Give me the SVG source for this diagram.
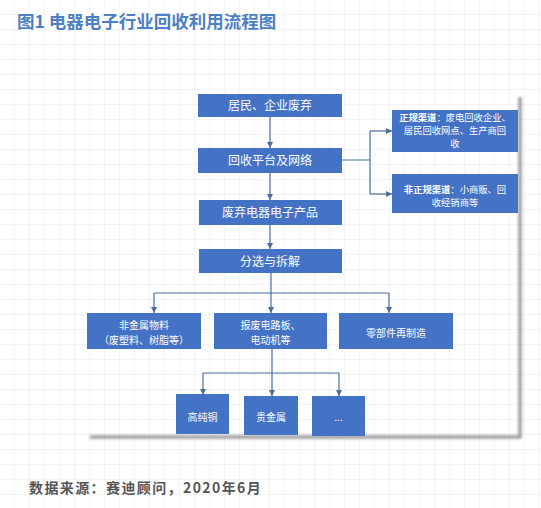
<svg xmlns="http://www.w3.org/2000/svg" width="541" height="508" viewBox="0 0 541 508">
<defs>
<pattern id="grid" width="15" height="15" patternUnits="userSpaceOnUse">
<path d="M15 0V15M0 15H15" fill="none" stroke="#e9e9ee" stroke-width="1"/>
</pattern>
<filter id="blur" x="-10%" y="-10%" width="120%" height="120%"><feGaussianBlur stdDeviation="1.6"/></filter>
<marker id="arr" viewBox="0 0 6 6" refX="6" refY="3" markerWidth="6" markerHeight="6" markerUnits="userSpaceOnUse" orient="auto">
<path d="M0 0L6 3L0 6Z" fill="#4a6e9c"/>
</marker>
<style>
.box{fill:#4472c4}
.t{font-family:"Noto Sans CJK SC","Noto Sans",sans-serif;fill:#fff;text-anchor:middle}
.b{font-size:12px}
.s{font-size:10px}
.r{font-size:9.3px}
.ln{fill:none;stroke:#4a6e9c;stroke-width:1.2}
</style>
</defs>
<rect width="541" height="508" fill="#fff"/>
<rect width="541" height="508" fill="url(#grid)"/>
<g id="card-shadow">
<path d="M90 437H520V97" fill="none" stroke="#8a8a8a" stroke-width="3" filter="url(#blur)"/>
</g>
<text x="17" y="28" font-family="Noto Sans CJK SC,sans-serif" font-size="17.5" font-weight="bold" fill="#4d7fc4">图1 电器电子行业回收利用流程图</text>
<g id="connectors">
<path class="ln" d="M270 117V148" marker-end="url(#arr)"/>
<path class="ln" d="M270 173V200" marker-end="url(#arr)"/>
<path class="ln" d="M270 225V249" marker-end="url(#arr)"/>
<path class="ln" d="M342 160H370M370 131V194"/>
<path class="ln" d="M370 131H392" marker-end="url(#arr)"/>
<path class="ln" d="M370 194H392" marker-end="url(#arr)"/>
<path class="ln" d="M271 273V293M154 293H389"/>
<path class="ln" d="M154 293V313" marker-end="url(#arr)"/>
<path class="ln" d="M271 293V313" marker-end="url(#arr)"/>
<path class="ln" d="M389 293V313" marker-end="url(#arr)"/>
<path class="ln" d="M272 349V373M203 373H339"/>
<path class="ln" d="M203 373V395" marker-end="url(#arr)"/>
<path class="ln" d="M272 373V396" marker-end="url(#arr)"/>
<path class="ln" d="M339 373V396" marker-end="url(#arr)"/>
</g>
<g id="n1"><rect class="box" x="198" y="94" width="144" height="23"/><text class="t b" x="270" y="110">居民、企业废弃</text></g>
<g id="n2"><rect class="box" x="198" y="148" width="144" height="25"/><text class="t b" x="270" y="165">回收平台及网络</text></g>
<g id="n3"><rect class="box" x="199" y="200" width="143" height="25"/><text class="t b" x="270" y="217">废弃电器电子产品</text></g>
<g id="n4"><rect class="box" x="199" y="249" width="143" height="24"/><text class="t b" x="270" y="265.5">分选与拆解</text></g>
<g id="n5"><rect class="box" x="392" y="110" width="126" height="42"/>
<text class="t r" x="455" y="120.5"><tspan font-weight="bold">正规渠道</tspan>：废电回收企业、</text>
<text class="t r" x="455" y="134">居民回收网点、生产商回</text>
<text class="t r" x="455" y="147">收</text></g>
<g id="n6"><rect class="box" x="392" y="174" width="126" height="39"/>
<text class="t r" x="455" y="192.5"><tspan font-weight="bold">非正规渠道</tspan>：小商贩、回</text>
<text class="t r" x="455" y="205.5">收经销商等</text></g>
<g id="n7"><rect class="box" x="87" y="313" width="114" height="36"/>
<text class="t s" x="144" y="328.5">非金属物料</text>
<text class="t s" x="144" y="343.5">（废塑料、树脂等）</text></g>
<g id="n8"><rect class="box" x="214" y="313" width="113" height="36"/>
<text class="t s" x="270.5" y="328.5">报废电路板、</text>
<text class="t s" x="270.5" y="343.5">电动机等</text></g>
<g id="n9"><rect class="box" x="339" y="313" width="114" height="36"/>
<text class="t s" x="396" y="336.5" font-size="10.5">零部件再制造</text></g>
<g id="n10"><rect class="box" x="176" y="394" width="53" height="40"/><text class="t s" x="202.5" y="420.5">高纯铜</text></g>
<g id="n11"><rect class="box" x="244" y="396" width="54" height="39"/><text class="t s" x="271" y="421">贵金属</text></g>
<g id="n12"><rect class="box" x="312" y="396" width="53" height="40"/><text class="t s" x="338.5" y="421">...</text></g>
<text x="29" y="493" font-family="Noto Sans CJK SC,sans-serif" font-size="14" font-weight="bold" fill="#555" letter-spacing="1.4">数据来源：赛迪顾问，2020年6月</text>
</svg>
